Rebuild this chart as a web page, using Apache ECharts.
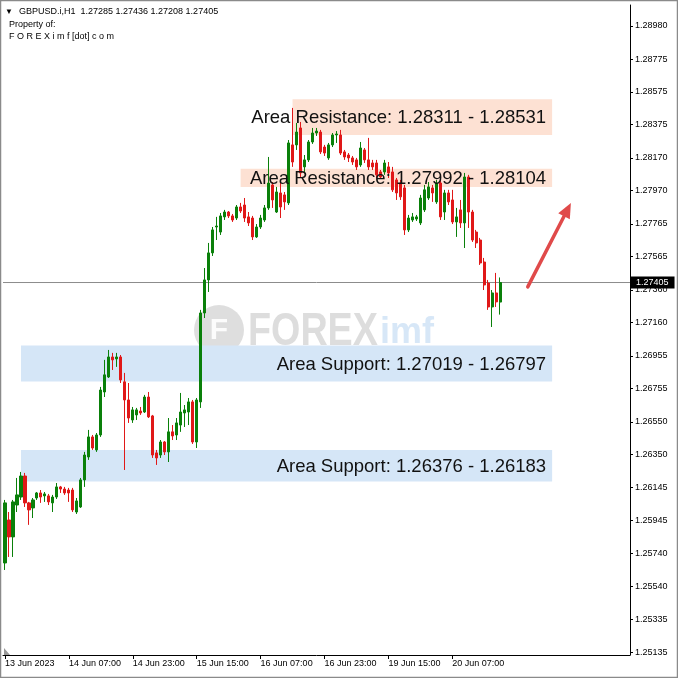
<!DOCTYPE html>
<html><head><meta charset="utf-8">
<script src="https://cdn.jsdelivr.net/npm/echarts@6/dist/echarts.min.js"></script>
<style>html,body{margin:0;padding:0;background:#fff}#c{width:678px;height:678px}</style>
</head><body><div id="c"></div>
<script>
// ---- data (GBPUSD.i, H1) ----
const open = [
1.25683,1.25947,1.25843,1.26039,1.26088,1.26217,1.26052,1.26021,1.26082,1.26113,
1.26095,1.26095,1.26052,1.26088,1.26150,1.26137,1.26131,1.26131,1.25996,1.26027,
1.26193,1.26334,1.26457,1.26377,1.26469,1.26733,1.26825,1.26948,1.26936,1.26948,
1.26795,1.26684,1.26561,1.26592,1.26616,1.26610,1.26702,1.26586,1.26359,1.26346,
1.26426,1.26365,1.26488,1.26469,1.26530,1.26604,1.26610,1.26672,1.26426,1.26672,
1.27218,1.27421,1.27587,1.27746,1.27715,1.27808,1.27838,1.27814,1.27801,1.27869,
1.27881,1.27808,1.27801,1.27685,1.27746,1.27789,1.27863,1.28004,1.27838,1.27955,
1.27943,1.27894,1.28250,1.28250,1.28354,1.28115,1.28158,1.28268,1.28323,1.28329,
1.28237,1.28170,1.28250,1.28311,1.28311,1.28207,1.28188,1.28170,1.28158,1.28127,
1.28219,1.28158,1.28139,1.28139,1.28084,1.28084,1.28115,1.28084,1.28035,1.28016,
1.27986,1.27728,1.27789,1.27795,1.27771,1.27851,1.27924,1.27986,1.27900,1.28016,
1.27838,1.27955,1.27912,1.27777,1.27851,1.27771,1.28053,1.27838,1.27715,1.27666,
1.27531,1.27402,1.27255,1.27341,1.27285];
const close = [
1.26052,1.25843,1.26058,1.26101,1.26217,1.26052,1.26009,1.26070,1.26113,1.26088,
1.26107,1.26058,1.26088,1.26150,1.26137,1.26113,1.26113,1.26009,1.26064,1.26193,
1.26346,1.26457,1.26389,1.26469,1.26745,1.26838,1.26948,1.26930,1.26948,1.26807,
1.26684,1.26573,1.26623,1.26623,1.26604,1.26702,1.26580,1.26346,1.26328,1.26426,
1.26365,1.26488,1.26463,1.26543,1.26610,1.26623,1.26672,1.26426,1.26684,1.27218,
1.27421,1.27587,1.27728,1.27752,1.27814,1.27838,1.27814,1.27789,1.27869,1.27844,
1.27801,1.27771,1.27685,1.27746,1.27801,1.27863,1.28016,1.27912,1.27961,1.27869,
1.27900,1.28262,1.28145,1.28329,1.28078,1.28158,1.28268,1.28323,1.28335,1.28207,
1.28200,1.28250,1.28311,1.28317,1.28200,1.28176,1.28170,1.28145,1.28115,1.28231,
1.28158,1.28115,1.28115,1.28066,1.28053,1.28139,1.28078,1.27974,1.27955,1.27931,
1.27728,1.27801,1.27808,1.27808,1.27924,1.27974,1.27992,1.27955,1.28016,1.27808,
1.27955,1.27900,1.27777,1.27808,1.27771,1.28053,1.27838,1.27666,1.27648,1.27525,
1.27390,1.27255,1.27341,1.27286,1.27405];
const low = [
1.25640,1.25720,1.25720,1.25996,1.26070,1.26027,1.25917,1.25959,1.26070,1.26052,
1.26058,1.26039,1.25996,1.26076,1.26113,1.26101,1.26058,1.25996,1.25984,1.26021,
1.26150,1.26316,1.26377,1.26365,1.26457,1.26702,1.26819,1.26868,1.26887,1.26788,
1.26254,1.26543,1.26543,1.26561,1.26592,1.26604,1.26573,1.26328,1.26285,1.26328,
1.26346,1.26303,1.26438,1.26438,1.26488,1.26518,1.26530,1.26414,1.26389,1.26635,
1.27187,1.27347,1.27568,1.27666,1.27697,1.27789,1.27801,1.27777,1.27789,1.27832,
1.27777,1.27752,1.27666,1.27679,1.27734,1.27777,1.27851,1.27863,1.27832,1.27801,
1.27851,1.27881,1.28115,1.28219,1.28053,1.28084,1.28145,1.28256,1.28305,1.28194,
1.28182,1.28158,1.28237,1.28262,1.28188,1.28158,1.28145,1.28127,1.28096,1.28115,
1.28139,1.28096,1.28096,1.28047,1.28041,1.28066,1.28047,1.27961,1.27912,1.27912,
1.27697,1.27715,1.27777,1.27783,1.27758,1.27838,1.27912,1.27900,1.27888,1.27789,
1.27789,1.27881,1.27764,1.27685,1.27740,1.27617,1.27740,1.27654,1.27617,1.27513,
1.27359,1.27237,1.27132,1.27255,1.27208];
const high = [
1.26070,1.25996,1.26070,1.26205,1.26242,1.26236,1.26058,1.26082,1.26119,1.26131,
1.26119,1.26107,1.26101,1.26174,1.26156,1.26150,1.26144,1.26144,1.26082,1.26205,
1.26365,1.26500,1.26469,1.26481,1.26764,1.26930,1.26991,1.26973,1.26973,1.26960,
1.26850,1.26788,1.26641,1.26635,1.26641,1.26715,1.26733,1.26592,1.26377,1.26438,
1.26432,1.26573,1.26530,1.26573,1.26727,1.26653,1.26696,1.26684,1.26696,1.27237,
1.27494,1.27648,1.27746,1.27808,1.27832,1.27851,1.27844,1.27826,1.27881,1.27894,
1.27924,1.27838,1.27814,1.27764,1.27820,1.27881,1.28176,1.28022,1.27992,1.28016,
1.27961,1.28280,1.28477,1.28385,1.28391,1.28188,1.28280,1.28354,1.28354,1.28342,
1.28250,1.28262,1.28323,1.28335,1.28342,1.28219,1.28200,1.28182,1.28170,1.28268,
1.28231,1.28293,1.28158,1.28158,1.28096,1.28158,1.28145,1.28115,1.28047,1.28035,
1.28004,1.27820,1.27832,1.27820,1.27943,1.28004,1.28022,1.28004,1.28035,1.28035,
1.27974,1.27974,1.27974,1.27863,1.27912,1.28078,1.28066,1.27851,1.27728,1.27679,
1.27556,1.27421,1.27359,1.27464,1.27436];

// time-axis labels and the bar index they belong to
const timeLabels = ['13 Jun 2023','14 Jun 07:00','14 Jun 23:00','15 Jun 15:00','16 Jun 07:00','16 Jun 23:00','19 Jun 15:00','20 Jun 07:00'];
const timeLabelBars = [0,16,32,48,64,80,96,112];

// price-axis tick labels
const priceTicks = [1.28980,1.28775,1.28575,1.28375,1.28170,1.27970,1.27765,1.27565,1.27360,1.27160,
                    1.26955,1.26755,1.26550,1.26350,1.26145,1.25945,1.25740,1.25540,1.25335,1.25135];

// annotated zones: name, first value, second value, start bar, end bar
const zoneNames  = ['Area Resistance','Area Resistance','Area Support','Area Support'];
const zoneFirst  = [1.28311, 1.27992, 1.27019, 1.26376];
const zoneSecond = [1.28531, 1.28104, 1.26797, 1.26183];
const zoneStartBar = [72, 59, 4, 4];
const zoneEndBar   = [137, 137, 137, 137];

// arrow annotation (bar index, price) -> (bar index, price)
const arrowFrom = [130.9, 1.27378];
const arrowTo   = [141.7, 1.27894];

const symbolName = 'GBPUSD.i,H1';

// ---- layout ----
const SLOTS = 157;
const cats = Array.from({length: SLOTS}, (_, i) => String(i));
const labelAt = {};
timeLabelBars.forEach((b, k) => labelAt[b] = timeLabels[k]);
const candles = open.map((o, i) => [o, close[i], low[i], high[i]]);
const last = open.length - 1;
const FONT = '"Liberation Sans", Arial, sans-serif';

const zoneData = zoneNames.map((n, i) => [zoneStartBar[i], zoneEndBar[i], zoneFirst[i], zoneSecond[i], n.indexOf('Resistance') >= 0 ? 0 : 1]);
const zoneFill = ['#fde1d3', '#d5e6f7'];

const chart = echarts.init(document.getElementById('c'), null, {renderer: 'canvas'});
chart.setOption({
  animation: false,
  backgroundColor: '#ffffff',
  grid: {left: 3, right: 48, top: 5, bottom: 23, containLabel: false},
  xAxis: [{
    type: 'category', data: cats, boundaryGap: true,
    axisLine: {show: true, onZero: false, lineStyle: {color: '#000', width: 1}},
    axisTick: {show: true, alignWithLabel: true, length: 4, interval: (i) => labelAt[i] !== undefined, lineStyle: {color: '#000'}},
    axisLabel: {show: true, interval: (i) => labelAt[i] !== undefined, formatter: (v, i) => labelAt[i] || '',
      align: 'left', margin: 4, fontSize: 9, color: '#000', fontFamily: FONT},
    splitLine: {show: false}
  }, {
    type: 'value', min: -0.5, max: SLOTS - 0.5, show: false
  }],
  yAxis: [{
    type: 'value', position: 'right', min: 1.25118, max: 1.29109, scale: true,
    axisLine: {show: true, onZero: false, lineStyle: {color: '#000', width: 1}},
    axisTick: {show: true, length: 3, customValues: priceTicks, lineStyle: {color: '#000'}},
    axisLabel: {show: true, customValues: priceTicks, formatter: v => v.toFixed(5), margin: 5,
      fontSize: 9, color: '#000', fontFamily: FONT},
    splitLine: {show: false}
  }],
  series: [
    {
      type: 'custom', name: 'zones', xAxisIndex: 1, yAxisIndex: 0, z: 1, silent: true,
      data: zoneData,
      renderItem: (params, api) => {
        const a = api.value(2), b = api.value(3);
        const p0 = api.coord([api.value(0), Math.max(a, b)]);
        const p1 = api.coord([api.value(1), Math.min(a, b)]);
        return {type: 'rect', shape: {x: p0[0], y: p0[1], width: p1[0] - p0[0], height: p1[1] - p0[1]},
          style: {fill: zoneFill[api.value(4)]}};
      }
    },
    {
      type: 'line', name: 'last price', xAxisIndex: 1, yAxisIndex: 0, z: 2, silent: true,
      data: [[-0.5, close[last]], [SLOTS - 0.5, close[last]]],
      symbol: 'none', lineStyle: {color: '#8c8c8c', width: 1},
      endLabel: {show: true, distance: 1, formatter: close[last].toFixed(5),
        backgroundColor: '#000', color: '#fff', fontSize: 9, fontFamily: FONT, padding: [2, 6, 1, 5]}
    },
    {
      type: 'candlestick', name: symbolName, z: 3,
      data: candles, barWidth: 2.6,
      itemStyle: {color: '#0a800a', color0: '#e01818', borderColor: '#0a800a', borderColor0: '#e01818', borderWidth: 1}
    },
    {
      type: 'custom', name: 'zoneText', xAxisIndex: 1, yAxisIndex: 0, z: 10, silent: true,
      data: zoneData,
      renderItem: (params, api) => {
        const i = params.dataIndex;
        const a = api.value(2), b = api.value(3);
        const p = api.coord([api.value(1), (a + b) / 2]);
        return {type: 'text', x: p[0] - 6, y: p[1] + 1,
          style: {text: zoneNames[i] + ': ' + zoneFirst[i].toFixed(5) + ' - ' + zoneSecond[i].toFixed(5),
            fill: '#111', font: '18.5px ' + FONT, align: 'right', verticalAlign: 'middle'}};
      }
    },
    {
      type: 'custom', name: 'arrow', xAxisIndex: 1, yAxisIndex: 0, z: 10, silent: true,
      data: [[arrowFrom[0], arrowFrom[1], arrowTo[0], arrowTo[1]]],
      encode: {x: [0, 2], y: [1, 3]},
      renderItem: (params, api) => {
        const s = api.coord([api.value(0), api.value(1)]);
        const e = api.coord([api.value(2), api.value(3)]);
        const dx = e[0] - s[0], dy = e[1] - s[1];
        const L = Math.sqrt(dx * dx + dy * dy), ux = dx / L, uy = dy / L;
        const hl = 15, hw = 6.5;
        const bx = e[0] - ux * hl, by = e[1] - uy * hl;
        return {type: 'group', children: [
          {type: 'line', shape: {x1: s[0], y1: s[1], x2: bx + ux * 2, y2: by + uy * 2},
            style: {stroke: '#e04a4a', lineWidth: 3.5, lineCap: 'round'}},
          {type: 'polygon', shape: {points: [[e[0], e[1]], [bx - uy * hw, by + ux * hw], [bx + uy * hw, by - ux * hw]]},
            style: {fill: '#e04a4a'}}
        ]};
      }
    }
  ],
  graphic: [
    // watermark
    {type: 'circle', z: 0, shape: {cx: 219, cy: 330, r: 25}, style: {fill: 'rgba(160,160,160,0.35)'}},
    {type: 'text', z: 0, x: 219, y: 331, style: {text: 'F', font: 'bold 30px ' + FONT, fill: 'rgba(255,255,255,0.9)', align: 'center', verticalAlign: 'middle'}},
    {type: 'ellipse', z: 0, shape: {cx: 224, cy: 351, rx: 16, ry: 3}, style: {fill: 'rgba(240,140,185,0.4)'}},
    {type: 'text', z: 0, x: 248, y: 332, scaleX: 0.82, style: {text: 'FOREX', font: 'bold 46px ' + FONT, fill: 'rgba(150,150,150,0.32)', verticalAlign: 'middle'}},
    {type: 'text', z: 0, x: 380, y: 333, style: {text: 'imf', font: 'bold 36px ' + FONT, fill: 'rgba(130,180,230,0.32)', verticalAlign: 'middle'}},
    // header
    {type: 'text', z: 100, x: 5, y: 12, style: {text: '\u25BC', font: '8px ' + FONT, fill: '#000', verticalAlign: 'middle'}},
    {type: 'text', z: 100, x: 19, y: 12, style: {text: symbolName + '  ' + [open[last], high[last], low[last], close[last]].map(v => v.toFixed(5)).join(' '),
      font: '9px ' + FONT, fill: '#000', verticalAlign: 'middle'}},
    {type: 'text', z: 100, x: 9, y: 25, style: {text: 'Property of:', font: '9px ' + FONT, fill: '#000', verticalAlign: 'middle'}},
    {type: 'text', z: 100, x: 9, y: 37, style: {text: 'F O R E X i m f [dot] c o m', font: '9px ' + FONT, fill: '#000', verticalAlign: 'middle'}},
    // shift marker and frame
    {type: 'polygon', z: 100, shape: {points: [[4, 648], [4, 655], [10, 655]]}, style: {fill: '#9a9a9a'}},
    {type: 'rect', z: 100, shape: {x: 0.5, y: 0.5, width: 677, height: 677}, style: {fill: 'none', stroke: '#8a8a8a', lineWidth: 1.5}}
  ]
});
</script></body></html>
